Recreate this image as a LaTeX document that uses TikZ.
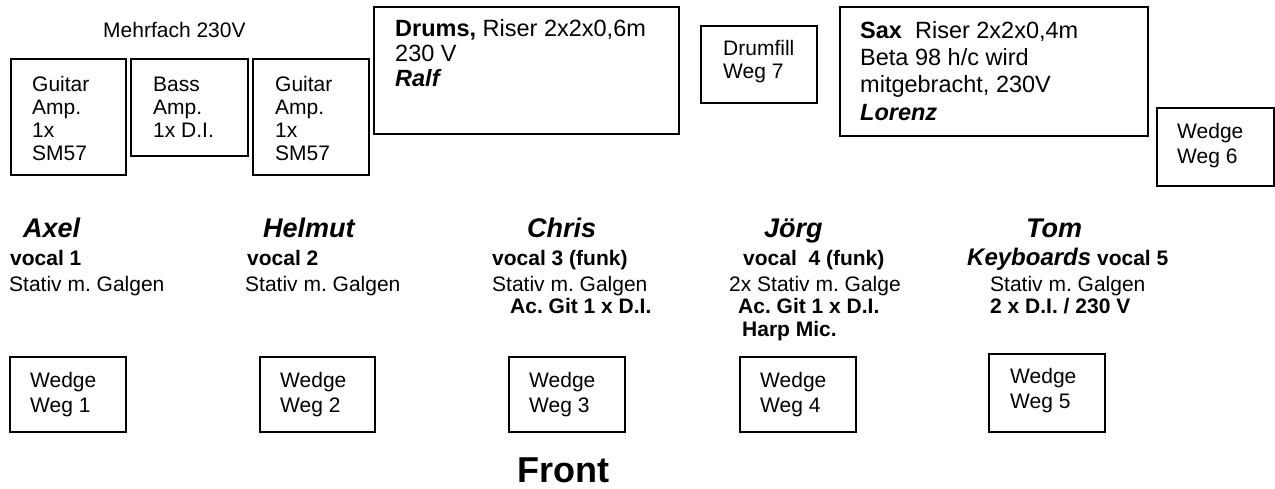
\documentclass[tikz,border=0pt]{standalone}
\usepackage{fontspec}
\setmainfont{Liberation Sans}
\frenchspacing
\begin{document}
\begin{tikzpicture}[x=1pt,y=-1pt,
  box/.style={draw,line width=1.6pt,inner sep=0pt,anchor=north west},
  txt/.style={inner sep=0pt,anchor=base west,align=left,font=\fontsize{21}{23}\selectfont},
  btxt/.style={txt,font=\fontsize{21}{23}\selectfont\bfseries},
  pname/.style={inner sep=0pt,anchor=base west,font=\fontsize{27}{30}\selectfont\bfseries\itshape}]
\useasboundingbox (0,0) rectangle (1275,488);
% top row boxes
\node[box,minimum width=115pt,minimum height=116pt] (gamp1) at (10,58) {};
\node[box,minimum width=117pt,minimum height=97pt] (bamp) at (130,58) {};
\node[box,minimum width=116pt,minimum height=116pt] (gamp2) at (252,58) {};
\node[box,minimum width=305pt,minimum height=127pt] (drums) at (373,6) {};
\node[box,minimum width=116pt,minimum height=77pt] (drumfill) at (700,25) {};
\node[box,minimum width=308pt,minimum height=129pt] (sax) at (839,6) {};
\node[box,minimum width=117pt,minimum height=78pt] (wedge6) at (1156,107) {};
% wedges front
\node[box,minimum width=116pt,minimum height=75pt] (w1) at (9,356) {};
\node[box,minimum width=115pt,minimum height=75pt] (w2) at (259,356) {};
\node[box,minimum width=116pt,minimum height=75pt] (w3) at (508,356) {};
\node[box,minimum width=116pt,minimum height=75pt] (w4) at (739,356) {};
\node[box,minimum width=116pt,minimum height=78pt] (w5) at (988,353) {};
% texts in boxes (anchor = baseline of last line)
\node[txt] (mehr) at (103,37) {Mehrfach 230V};
\node[txt] (g1t) at (32,160) {Guitar\\Amp.\\1x\\SM57};
\node[txt] (bt) at (153,137) {Bass\\Amp.\\1x D.I.};
\node[txt] (g2t) at (275,160) {Guitar\\Amp.\\1x\\SM57};
\node[txt,font=\fontsize{23.5}{25}\selectfont] (drt) at (395,86) {\textbf{Drums,} Riser 2x2x0,6m\\230 V\\\textbf{\textit{Ralf}}};
\node[txt] (dft) at (723,78) {Drumfill\\Weg 7};
\node[txt,font=\fontsize{23.5}{27.3}\selectfont] (sxt) at (860,120) {\textbf{Sax}\ \ Riser 2x2x0,4m\\Beta 98 h/c wird\\mitgebracht, 230V\\\textbf{\textit{Lorenz}}};
\node[txt,font=\fontsize{21}{25}\selectfont] (w6t) at (1177,163) {Wedge\\Weg 6};
\node[txt,font=\fontsize{21}{25}\selectfont] (w1t) at (30,412) {Wedge\\Weg 1};
\node[txt,font=\fontsize{21}{25}\selectfont] (w2t) at (280,412) {Wedge\\Weg 2};
\node[txt,font=\fontsize{21}{25}\selectfont] (w3t) at (529,412) {Wedge\\Weg 3};
\node[txt,font=\fontsize{21}{25}\selectfont] (w4t) at (760,412) {Wedge\\Weg 4};
\node[txt,font=\fontsize{21}{25}\selectfont] (w5t) at (1010,408) {Wedge\\Weg 5};
% musicians
\node[pname] (axel) at (23,237) {Axel};
\node[pname] (helmut) at (263,237) {Helmut};
\node[pname] (chris) at (527,237) {Chris};
\node[pname] (joerg) at (764,237) {Jörg};
\node[pname] (tom) at (1026,237) {Tom};
\node[btxt] (v1) at (10,265) {vocal 1};
\node[btxt] (v2) at (247,265) {vocal 2};
\node[btxt] (v3) at (492,265) {vocal 3 (funk)};
\node[btxt] (v4) at (743,265) {vocal\ \ 4 (funk)};
\node[btxt] (v5) at (967,265) {{\fontsize{24}{26}\selectfont\itshape Keyboards} vocal 5};
\node[txt] (s1) at (9,291) {Stativ m. Galgen};
\node[txt] (s2) at (245,291) {Stativ m. Galgen};
\node[txt] (s3) at (492,291) {Stativ m. Galgen};
\node[txt] (s4) at (729,291) {2x Stativ m. Galge};
\node[txt] (s5) at (990,291) {Stativ m. Galgen};
\node[btxt] (a3) at (510,313) {Ac. Git 1 x D.I.};
\node[btxt] (a4) at (738,313) {Ac. Git 1 x D.I.};
\node[btxt] (a5) at (990,313) {2 x D.I. / 230 V};
\node[btxt] (h4) at (742,336) {Harp Mic.};
\node[inner sep=0pt,anchor=base west,font=\fontsize{36}{40}\selectfont\bfseries] (front) at (517,482) {Front};
\end{tikzpicture}
\end{document}
